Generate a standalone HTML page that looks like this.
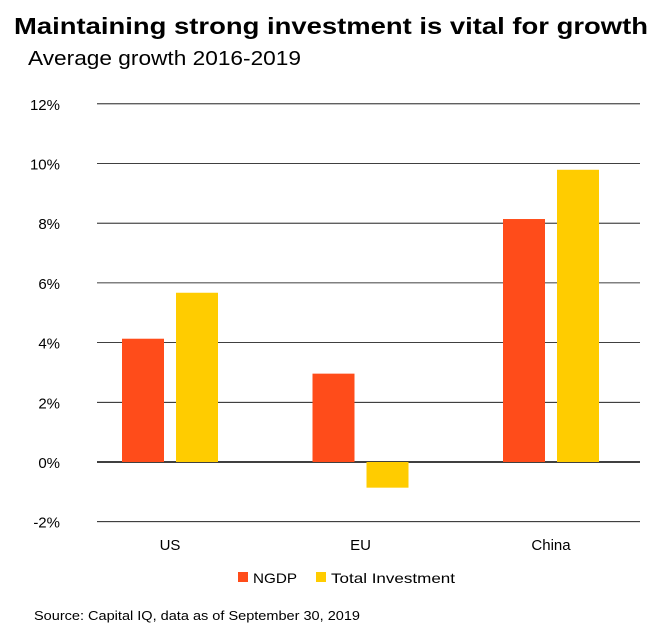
<!DOCTYPE html>
<html><head><meta charset="utf-8"><style>
body{margin:0;background:#fff;width:668px;height:637px;overflow:hidden;font-family:"Liberation Sans",sans-serif}
</style></head><body>
<svg width="668" height="637" xmlns="http://www.w3.org/2000/svg">
<text x="14" y="34" font-size="23" font-weight="bold" fill="#000" textLength="634" lengthAdjust="spacingAndGlyphs">Maintaining strong investment is vital for growth</text>
<text x="28" y="65" font-size="20" fill="#000" textLength="273" lengthAdjust="spacingAndGlyphs">Average growth 2016-2019</text>
<g id="grid"></g><g id="bars"></g><g id="xl"></g>
<rect x="238" y="572" width="10" height="10" fill="#FF4C1A"/>
<text x="253" y="583" font-size="14" textLength="44" lengthAdjust="spacingAndGlyphs">NGDP</text>
<rect x="316" y="572" width="10" height="10" fill="#FFCC00"/>
<text x="331" y="583" font-size="14" textLength="124" lengthAdjust="spacingAndGlyphs">Total Investment</text>
<text x="34" y="620" font-size="13" textLength="326" lengthAdjust="spacingAndGlyphs">Source: Capital IQ, data as of September 30, 2019</text>
</svg>
<script>
const categories=["US","EU","China"];
const ngdp=[4.13,2.96,8.14];
const investment=[5.67,-0.86,9.79];
const ticks=[-2,0,2,4,6,8,10,12];
const NS="http://www.w3.org/2000/svg";
const y=v=>462-v*29.85;
const cx=i=>170+i*190.5;
function mk(t,a,p){const e=document.createElementNS(NS,t);for(const k in a)e.setAttribute(k,a[k]);p.appendChild(e);return e;}
const g=document.getElementById('grid');
ticks.forEach(t=>{
 const l=mk('line',{x1:97,x2:640,y1:y(t),y2:y(t),stroke:'#000','stroke-width':t===0?1.6:0.8},g);
 
 
 const tx=mk('text',{x:60,y:y(t)+6,'font-size':15,'text-anchor':'end'},g);
 tx.textContent=t+'%';
 
 
});
const b=document.getElementById('bars'),xl=document.getElementById('xl');
categories.forEach((c,i)=>{
 [[ngdp[i],'#FF4C1A',-48],[investment[i],'#FFCC00',6]].forEach(([v,col,off],j)=>{
  const r=mk('rect',{x:cx(i)+off,width:42,y:Math.min(y(v),y(0)),height:Math.abs(y(v)-y(0)),fill:col},b);
  
  
 });
 const t=mk('text',{x:cx(i),y:550,'font-size':15,'text-anchor':'middle'},xl);
 t.textContent=c;
 
 
});
</script>
</body></html>
